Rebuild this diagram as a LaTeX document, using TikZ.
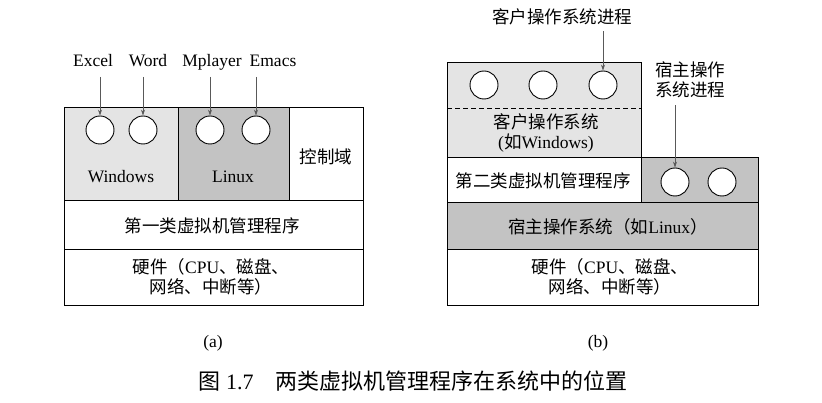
\documentclass[tikz,border=0pt]{standalone}
\usepackage{fontspec}
\setmainfont{Liberation Serif}
\newfontfamily\cjk{Noto Sans CJK SC}
\usetikzlibrary{arrows.meta}
\newcommand\zh[1]{{\cjk #1}}
\definecolor{lightg}{HTML}{E4E4E4}
\definecolor{darkg}{HTML}{C3C3C3}
\begin{document}
\begin{tikzpicture}[x=1pt,y=-1pt,
  box/.style={draw, line width=0.9pt, inner sep=0pt, outer sep=0pt},
  proc/.style={circle, draw, line width=0.9pt, fill=white, minimum size=28pt, inner sep=0pt},
  arr/.style={draw=black!65, line width=0.7pt, -{Stealth[length=6pt,width=4pt]}},
  txt/.style={font=\fontsize{17.5}{20}\selectfont, inner sep=1pt, align=center},
  lbl/.style={font=\fontsize{17.5}{20}\selectfont, inner sep=1pt, anchor=base},
  captxt/.style={font=\fontsize{22}{25}\selectfont, inner sep=1pt}]
\useasboundingbox (0,0) rectangle (822,403);
% ---------- (a) ----------
\node[box, fill=lightg, minimum width=114pt, minimum height=93pt] (win) at (121,153.5) {};
\node[box, fill=darkg, minimum width=111pt, minimum height=93pt] (lin) at (233.5,153.5) {};
\node[box, minimum width=74pt, minimum height=93pt] (ctl) at (326,153.5) {};
\node[box, minimum width=299pt, minimum height=49pt] (hypa) at (213.5,224.5) {};
\node[box, minimum width=299pt, minimum height=56pt] (hwa) at (213.5,277) {};
\node[txt] (wint) at (121,177) {Windows};
\node[txt] (lint) at (233,177) {Linux};
\node[txt] (ctlt) at (326,157) {\zh{控制域}};
\node[txt] (hypat) at (212,226) {\zh{第一类虚拟机管理程序}};
\node[txt] (hwat) at (211,277) {\zh{硬件（}CPU\zh{、磁盘、}\\\zh{网络、中断等）}};
\node[proc] (c1) at (100,130) {};
\node[proc] (c2) at (143,130) {};
\node[proc] (c3) at (210,130) {};
\node[proc] (c4) at (256,130) {};
\node[lbl] (excel) at (93,67) {Excel};
\node[lbl] (word) at (148,67) {Word};
\node[lbl] (mpl) at (212,67) {Mplayer};
\node[lbl] (ema) at (273,67) {Emacs};
\draw[arr] ([yshift=-10pt]excel.base -| c1) -- (c1.north);
\draw[arr] ([yshift=-10pt]word.base -| c2) -- (c2.north);
\draw[arr] ([yshift=-10pt]mpl.base -| c3) -- (c3.north);
\draw[arr] ([yshift=-10pt]ema.base -| c4) -- (c4.north);
\node[txt] (la) at (213,343) {(a)};
% ---------- (b) ----------
\node[box, fill=lightg, minimum width=194pt, minimum height=95pt] (guest) at (544,109.5) {};
\draw[line width=0.9pt, dash pattern=on 5pt off 3pt] (guest.west |- 0,108) -- (guest.east |- 0,108);
\node[box, minimum width=194pt, minimum height=45pt] (hypb) at (544,179.5) {};
\node[box, fill=darkg, minimum width=117pt, minimum height=45pt] (hostp) at (699.5,179.5) {};
\node[box, fill=darkg, minimum width=311pt, minimum height=47pt] (host) at (602.5,225.5) {};
\node[box, minimum width=311pt, minimum height=56pt] (hwb) at (602.5,277) {};
\node[txt] (guestt) at (546,133) {\zh{客户操作系统}\\(\zh{如}Windows)};
\node[txt] (hypbt) at (543,181) {\zh{第二类虚拟机管理程序}};
\node[txt] (hostt) at (608,227) {\zh{宿主操作系统（如}Linux\zh{）}};
\node[txt] (hwbt) at (610,277) {\zh{硬件（}CPU\zh{、磁盘、}\\\zh{网络、中断等）}};
\node[proc] (g1) at (484,85) {};
\node[proc] (g2) at (543,85) {};
\node[proc] (g3) at (603,85) {};
\node[proc] (h1) at (675,182) {};
\node[proc] (h2) at (722,182) {};
\node[txt] (gl) at (562,17) {\zh{客户操作系统进程}};
\node[txt] (hl) at (690,80) {\zh{宿主操作}\\\zh{系统进程}};
\draw[arr] ([yshift=-5pt]gl.south -| g3) -- (g3.north);
\draw[arr] ([yshift=-6pt]hl.south -| h1) -- (h1.north);
\node[txt] (lb) at (598,343) {(b)};
% ---------- caption ----------
\node[captxt] (caption) at (413,381) {\zh{图} 1.7\zh{　两类虚拟机管理程序在系统中的位置}};
\end{tikzpicture}
\end{document}
